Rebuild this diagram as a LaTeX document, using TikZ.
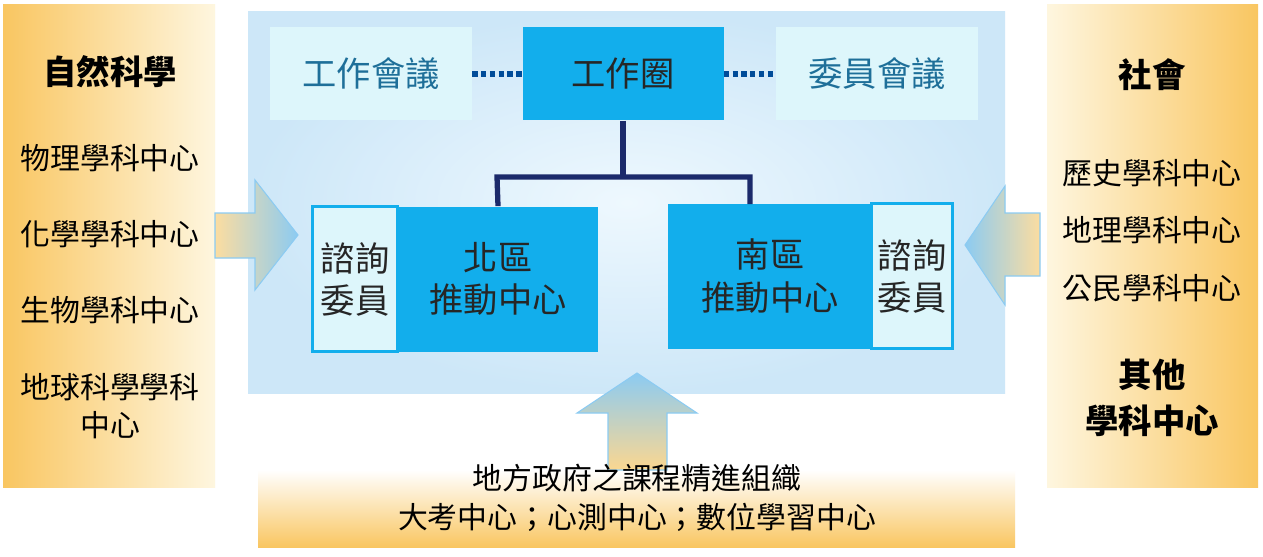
\documentclass[tikz,border=0pt]{standalone}
\usepackage{fontspec}
\newfontfamily\cjk{Noto Sans CJK TC}
\definecolor{orng}{HTML}{F9C661}
\definecolor{cream}{HTML}{FEF6DF}
\definecolor{bbox}{HTML}{12AEEC}
\definecolor{lbox}{HTML}{DDF6FB}
\definecolor{navy}{HTML}{1B2A6B}
\definecolor{ltxt}{HTML}{1E6F99}
\definecolor{bgin}{HTML}{EEF8FE}
\definecolor{bgout}{HTML}{CDE7F8}
\definecolor{arb}{HTML}{8CCBF2}
\begin{document}
\begin{tikzpicture}[x=0.02cm,y=-0.02cm,font=\cjk,
  item/.style={font=\cjk\fontsize{17}{22}\selectfont,text=black},
  ttl/.style={font=\cjk\fontsize{19}{26}\selectfont\bfseries,text=black,align=center},
  boxt/.style={font=\cjk\fontsize{19.5}{24}\selectfont,align=center},
  lb/.style={fill=lbox,draw=none,text=ltxt},
  bb/.style={fill=bbox,draw=none,text=black!85}]
\useasboundingbox (0,0) rectangle (1263,557);
\fill[white] (0,0) rectangle (1263,557);
% side panels
\shade[left color=orng,right color=cream] (3,5) rectangle (215,487);
\shade[left color=cream,right color=orng] (1047,5) rectangle (1258,487);
% center bg
\shade[inner color=bgin,outer color=bgout] (248,12) rectangle (1005,393);
% bottom panel
\shade[top color=white,bottom color=orng] (258,470) rectangle (1015,547);
% left panel text
\node[ttl] (ns) at (110,72) {自然科學};
\node[item] (p1) at (110,158) {物理學科中心};
\node[item] (p2) at (110,234) {化學學科中心};
\node[item] (p3) at (110,310) {生物學科中心};
\node[item,align=center] (p4) at (110,406) {地球科學學科\\中心};
% right
\node[ttl] (so) at (1152,75) {社會};
\node[item] (r1) at (1152,173) {歷史學科中心};
\node[item] (r2) at (1152,230) {地理學科中心};
\node[item] (r3) at (1152,288) {公民學科中心};
\node[ttl] (ot) at (1152,398) {其他\\學科中心};
% top boxes
\node[lb,boxt,minimum width=202*0.02cm,minimum height=93*0.02cm] (wm) at (371,74) {工作會議};
\node[bb,boxt,minimum width=201*0.02cm,minimum height=93*0.02cm] (wc) at (623,74) {工作圈};
\node[lb,boxt,minimum width=202*0.02cm,minimum height=93*0.02cm] (cm) at (877,74) {委員會議};
\draw[blue!50!cyan!60!black,line width=3pt,dotted] (wm.east) -- (wc.west);
\draw[blue!50!cyan!60!black,line width=3pt,dotted] (wc.east) -- (cm.west);
% lower boxes
\node[bb,boxt,minimum width=200*0.02cm,minimum height=145*0.02cm] (north) at (498,279) {北區\\推動中心};
\node[fill=lbox,draw=bbox,line width=1.2pt,boxt,text=black!85,minimum width=85*0.02cm,minimum height=145*0.02cm] (na) at (355,279) {諮詢\\委員};
\node[bb,boxt,minimum width=204*0.02cm,minimum height=145*0.02cm] (south) at (770,276) {南區\\推動中心};
\node[fill=lbox,draw=bbox,line width=1.2pt,boxt,text=black!85,minimum width=81*0.02cm,minimum height=145*0.02cm] (sa) at (912,276) {諮詢\\委員};
\coordinate (j) at (623,177);
\draw[navy,line width=3pt] (wc.south) -- (j);
\draw[navy,line width=3pt] (north.north) -- (497,177) -- (750,177) -- (750,204);
% arrows
\shade[left color=orng!60,right color=arb,draw=arb,line width=0.6pt]
  (215,213) -- (255,213) -- (255,180) -- (298,235) -- (255,290) -- (255,258) -- (215,258) -- cycle;
\shade[left color=arb,right color=orng!60,draw=arb,line width=0.6pt]
  (1040,213) -- (1005,213) -- (1005,186) -- (965,245) -- (1005,305) -- (1005,276) -- (1040,276) -- cycle;
\shade[bottom color=orng!70,top color=arb,draw=arb,line width=0.6pt]
  (608,470) -- (608,413) -- (577,413) -- (637,373) -- (697,413) -- (667,413) -- (667,470) -- cycle;
% bottom text
\node[item] (b1) at (637,478) {地方政府之課程精進組織};
\node[item] (b2) at (637,517) {大考中心；心測中心；數位學習中心};
\end{tikzpicture}
\end{document}
